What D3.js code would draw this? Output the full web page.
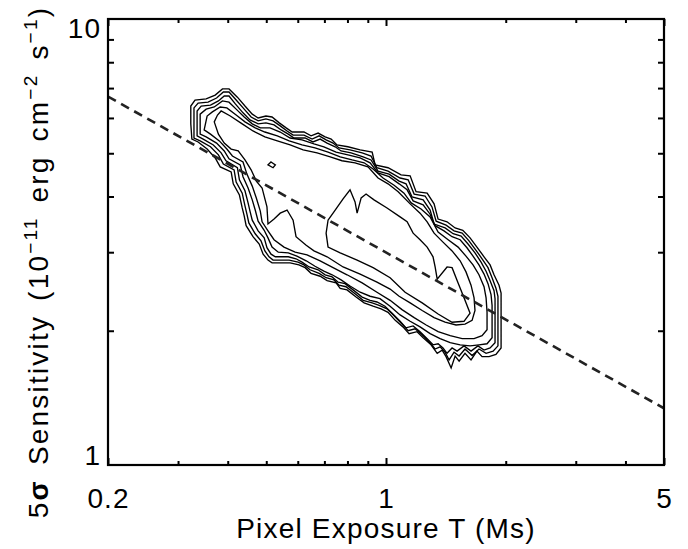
<!DOCTYPE html>
<html>
<head>
<meta charset="utf-8">
<script src="https://cdn.jsdelivr.net/npm/d3@7"></script>
<style>
  html, body { margin: 0; padding: 0; background: #fff; }
  svg { display: block; font-family: "Liberation Sans", Arial, Helvetica, sans-serif; }
</style>
</head>
<body>
<svg id="chart" width="688" height="549"></svg>
<script>
// ---- axis ticks ----
const xMajorTicks = [0.2, 1, 5];
const xMinorTicks = [0.3, 0.4, 0.5, 0.6, 0.7, 0.8, 0.9, 2, 3, 4];
const yMajorTicks = [1, 10];
const yMinorTicks = [2, 3, 4, 5, 6, 7, 8, 9];

// ---- S ∝ T^-1/2 reference line (T in Ms, S in 1e-11 erg cm^-2 s^-1) ----
const fitLine = [[0.2, 6.7], [5, 1.34]];

// ---- density contours of pixel exposure vs. 5-sigma sensitivity, outermost first ----
const contour1 = [
  [0.325,5.38],[0.323,5.82],[0.323,6.38],[0.331,6.58],[0.353,6.62],[0.372,6.75],[0.388,6.97],[0.403,6.97],
  [0.423,6.68],[0.442,6.38],[0.461,6.12],[0.477,6.00],[0.499,6.06],[0.517,6.03],[0.539,5.85],[0.561,5.70],
  [0.581,5.58],[0.622,5.58],[0.648,5.47],[0.675,5.55],[0.703,5.44],[0.728,5.38],[0.753,5.22],[0.802,5.17],
  [0.861,5.09],[0.923,5.03],[0.939,4.71],[1.012,4.64],[1.091,4.47],[1.15,4.45],[1.19,4.10],[1.269,4.07],
  [1.321,3.85],[1.352,3.56],[1.424,3.51],[1.492,3.40],[1.56,3.36],[1.627,3.23],[1.693,3.08],[1.764,2.93],
  [1.827,2.81],[1.869,2.67],[1.924,2.53],[1.947,2.43],[1.947,1.83],[1.890,1.77],[1.816,1.75],[1.744,1.75],
  [1.693,1.80],[1.636,1.72],[1.580,1.78],[1.527,1.71],[1.492,1.755],[1.458,1.65],[1.416,1.75],[1.384,1.81],
  [1.345,1.78],[1.298,1.86],[1.240,1.93],[1.197,1.99],[1.143,1.97],[1.103,2.04],[1.055,2.11],[1.012,2.20],
  [0.972,2.24],[0.928,2.27],[0.881,2.31],[0.841,2.38],[0.798,2.47],[0.767,2.49],[0.749,2.56],[0.711,2.59],
  [0.683,2.65],[0.648,2.69],[0.626,2.77],[0.604,2.81],[0.574,2.84],[0.517,2.84],[0.505,2.88],[0.491,2.97],
  [0.480,3.13],[0.463,3.25],[0.445,3.44],[0.440,3.62],[0.435,3.77],[0.428,4.03],[0.413,4.27],[0.408,4.54],
  [0.383,4.66],[0.372,4.88],[0.355,5.11],[0.337,5.30]
];
const contour2 = [
  [0.329,5.41],[0.329,6.32],[0.337,6.48],[0.357,6.51],[0.375,6.65],[0.390,6.86],[0.403,6.86],[0.420,6.58],
  [0.440,6.28],[0.458,6.03],[0.477,5.91],[0.499,5.97],[0.520,5.91],[0.542,5.76],[0.564,5.61],[0.584,5.49],
  [0.622,5.49],[0.652,5.38],[0.679,5.47],[0.707,5.36],[0.736,5.27],[0.762,5.14],[0.812,5.09],[0.871,5.01],
  [0.917,4.93],[0.949,4.64],[1.012,4.56],[1.085,4.40],[1.137,4.36],[1.177,4.05],[1.254,4.01],[1.305,3.79],
  [1.337,3.52],[1.416,3.45],[1.483,3.35],[1.554,3.31],[1.617,3.18],[1.684,3.03],[1.744,2.90],[1.805,2.77],
  [1.848,2.63],[1.890,2.49],[1.912,2.39],[1.912,1.85],[1.859,1.80],[1.785,1.78],[1.713,1.82],[1.646,1.76],
  [1.580,1.82],[1.527,1.755],[1.483,1.79],[1.441,1.72],[1.408,1.79],[1.368,1.84],[1.329,1.82],[1.283,1.89],
  [1.233,1.96],[1.183,2.02],[1.137,2.00],[1.097,2.07],[1.048,2.16],[1.006,2.24],[0.961,2.28],[0.923,2.31],
  [0.876,2.34],[0.836,2.42],[0.793,2.51],[0.762,2.53],[0.740,2.60],[0.707,2.63],[0.679,2.69],[0.644,2.74],
  [0.622,2.81],[0.601,2.85],[0.571,2.88],[0.520,2.88],[0.508,2.93],[0.496,3.02],[0.485,3.18],[0.469,3.30],
  [0.452,3.49],[0.447,3.65],[0.442,3.81],[0.435,4.07],[0.420,4.31],[0.415,4.59],[0.390,4.73],[0.379,4.96],
  [0.362,5.17],[0.341,5.33]
];
const contour3 = [
  [0.335,5.47],[0.335,6.22],[0.343,6.38],[0.362,6.41],[0.379,6.55],[0.392,6.72],[0.403,6.72],[0.418,6.45],
  [0.437,6.16],[0.455,5.94],[0.477,5.82],[0.499,5.85],[0.523,5.79],[0.545,5.64],[0.568,5.52],[0.587,5.41],
  [0.626,5.41],[0.655,5.30],[0.683,5.38],[0.711,5.27],[0.745,5.17],[0.771,5.06],[0.817,5.01],[0.876,4.91],
  [0.917,4.83],[0.955,4.56],[1.018,4.49],[1.079,4.33],[1.123,4.27],[1.163,3.99],[1.240,3.93],[1.291,3.73],
  [1.321,3.47],[1.408,3.40],[1.475,3.30],[1.545,3.26],[1.608,3.13],[1.674,2.99],[1.734,2.85],[1.785,2.72],
  [1.827,2.59],[1.869,2.46],[1.880,2.36],[1.880,1.88],[1.827,1.83],[1.764,1.81],[1.703,1.85],[1.636,1.80],
  [1.571,1.85],[1.509,1.80],[1.466,1.83],[1.424,1.78],[1.391,1.83],[1.352,1.87],[1.313,1.86],[1.269,1.92],
  [1.218,1.99],[1.170,2.05],[1.123,2.03],[1.085,2.10],[1.036,2.19],[0.994,2.27],[0.949,2.32],[0.912,2.34],
  [0.871,2.38],[0.831,2.46],[0.789,2.55],[0.758,2.57],[0.732,2.64],[0.703,2.67],[0.675,2.74],[0.641,2.78],
  [0.615,2.85],[0.594,2.90],[0.568,2.93],[0.527,2.93],[0.514,2.97],[0.502,3.07],[0.494,3.23],[0.477,3.35],
  [0.461,3.54],[0.455,3.71],[0.450,3.87],[0.442,4.12],[0.428,4.36],[0.423,4.64],[0.396,4.81],[0.385,5.01],
  [0.368,5.22],[0.347,5.38]
];
const contour4 = [
  [0.341,5.52],[0.341,6.12],[0.353,6.28],[0.370,6.35],[0.388,6.55],[0.403,6.51],[0.420,6.28],[0.440,6.03],
  [0.461,5.82],[0.483,5.70],[0.511,5.70],[0.542,5.58],[0.574,5.41],[0.615,5.36],[0.659,5.25],[0.698,5.17],
  [0.749,5.03],[0.802,4.96],[0.861,4.88],[0.912,4.76],[0.955,4.52],[1.018,4.43],[1.079,4.27],[1.130,4.14],
  [1.170,3.91],[1.240,3.83],[1.291,3.65],[1.329,3.44],[1.399,3.35],[1.466,3.25],[1.536,3.20],[1.598,3.07],
  [1.655,2.94],[1.713,2.81],[1.764,2.68],[1.805,2.55],[1.837,2.41],[1.848,2.28],[1.848,1.93],[1.795,1.87],
  [1.713,1.86],[1.627,1.85],[1.536,1.86],[1.450,1.88],[1.368,1.92],[1.291,1.97],[1.218,2.04],[1.150,2.10],
  [1.085,2.17],[1.024,2.27],[0.966,2.36],[0.912,2.39],[0.861,2.44],[0.812,2.52],[0.771,2.60],[0.732,2.67],
  [0.698,2.72],[0.663,2.79],[0.630,2.87],[0.597,2.94],[0.568,2.99],[0.536,3.00],[0.517,3.08],[0.505,3.23],
  [0.494,3.36],[0.477,3.52],[0.469,3.73],[0.461,3.93],[0.450,4.18],[0.437,4.43],[0.430,4.71],[0.403,4.86],
  [0.392,5.06],[0.375,5.27],[0.353,5.44]
];
const contour5 = [
  [0.349,5.64],[0.355,6.06],[0.366,6.19],[0.383,6.35],[0.398,6.32],[0.420,6.09],[0.442,5.88],[0.469,5.70],
  [0.496,5.58],[0.533,5.47],[0.571,5.33],[0.615,5.22],[0.663,5.14],[0.715,5.03],[0.767,4.91],[0.822,4.83],
  [0.881,4.76],[0.928,4.61],[0.983,4.40],[1.048,4.24],[1.110,4.07],[1.157,3.87],[1.225,3.75],[1.291,3.60],
  [1.352,3.33],[1.433,3.20],[1.518,3.08],[1.589,2.94],[1.655,2.81],[1.713,2.67],[1.764,2.51],[1.785,2.37],
  [1.795,2.20],[1.795,2.01],[1.744,1.95],[1.665,1.92],[1.554,1.92],[1.450,1.95],[1.352,1.99],[1.262,2.06],
  [1.177,2.14],[1.097,2.23],[1.024,2.34],[0.949,2.44],[0.871,2.56],[0.798,2.67],[0.736,2.77],[0.683,2.87],
  [0.633,2.96],[0.591,3.00],[0.554,3.08],[0.523,3.20],[0.505,3.35],[0.488,3.51],[0.483,3.71],[0.472,3.97],
  [0.461,4.22],[0.447,4.49],[0.437,4.78],[0.411,4.93],[0.398,5.11],[0.381,5.33],[0.362,5.52]
];
const contour6 = [
  [0.370,5.88],[0.377,6.09],[0.385,6.22],[0.406,6.06],[0.435,5.82],[0.463,5.61],[0.496,5.44],[0.533,5.33],
  [0.574,5.22],[0.619,5.09],[0.671,5.01],[0.724,4.91],[0.775,4.81],[0.836,4.76],[0.901,4.66],[0.955,4.40],
  [1.012,4.27],[1.073,4.10],[1.150,3.85],[1.218,3.67],[1.269,3.51],[1.321,3.31],[1.391,3.16],[1.466,3.02],
  [1.536,2.87],[1.589,2.71],[1.636,2.53],[1.665,2.37],[1.674,2.22],[1.646,2.11],[1.580,2.07],[1.500,2.06],
  [1.408,2.09],[1.321,2.14],[1.233,2.22],[1.150,2.31],[1.079,2.39],[1.024,2.48],[0.949,2.57],[0.861,2.68],
  [0.780,2.78],[0.711,2.93],[0.659,3.02],[0.630,3.11],[0.594,3.25],[0.584,3.54],[0.564,3.73],[0.542,3.67],
  [0.523,3.56],[0.505,3.47],[0.502,3.79],[0.488,4.18],[0.472,4.33],[0.458,4.59],[0.442,4.83],[0.425,5.06],
  [0.408,5.11],[0.392,5.27],[0.379,5.52]
];
const contour7 = [
  [0.715,3.54],[0.736,3.67],[0.780,3.95],[0.812,4.14],[0.836,3.89],[0.846,3.67],[0.866,3.97],[0.891,4.05],
  [0.933,3.93],[1.006,3.77],[1.085,3.60],[1.130,3.51],[1.170,3.31],[1.218,3.20],[1.269,3.08],[1.313,2.93],
  [1.329,2.78],[1.345,2.61],[1.424,2.78],[1.466,2.77],[1.518,2.56],[1.571,2.37],[1.627,2.19],[1.571,2.10],
  [1.466,2.09],[1.352,2.18],[1.233,2.31],[1.117,2.44],[1.024,2.63],[0.928,2.77],[0.846,2.88],[0.767,2.99],
  [0.715,3.08],[0.707,3.31]
];
const contour8 = [
  [0.514,4.78],[0.527,4.71],[0.520,4.64],[0.505,4.71]
];
const contours = [contour1, contour2, contour3, contour4, contour5, contour6, contour7, contour8];

// ---- layout ----
const plot = { left: 108, right: 664, top: 19, bottom: 465 };

const svg = d3.select("#chart");

const x = d3.scaleLog().domain([0.2, 5]).range([plot.left, plot.right]);
const y = d3.scaleLog().domain([1, 10]).range([plot.bottom, plot.top]);

const clipId = "plot-clip";
svg.append("clipPath").attr("id", clipId)
  .append("rect")
  .attr("x", plot.left).attr("y", plot.top)
  .attr("width", plot.right - plot.left).attr("height", plot.bottom - plot.top);

const body = svg.append("g").attr("clip-path", `url(#${clipId})`);

// contours
const ring = d3.line()
  .x(d => x(d[0]))
  .y(d => y(d[1]))
  .curve(d3.curveLinearClosed);

body.selectAll("path.contour")
  .data(contours)
  .join("path")
  .attr("class", "contour")
  .attr("d", ring)
  .attr("fill", "none")
  .attr("stroke", "#000")
  .attr("stroke-width", 1.35)
  .attr("stroke-linejoin", "miter");

// dashed fit line
body.append("path")
  .datum(fitLine)
  .attr("d", d3.line().x(d => x(d[0])).y(d => y(d[1])))
  .attr("fill", "none")
  .attr("stroke", "#222")
  .attr("stroke-width", 2.6)
  .attr("stroke-dasharray", "9,6");

// ---- axes: inward ticks on all four sides ----
function styleTicks(g) {
  g.select(".domain").remove();
  g.selectAll(".tick line").attr("stroke", "#000").attr("stroke-width", 2);
}
const minorX = 4, majorX = 7, minorY = 6;

svg.append("g").attr("transform", `translate(0,${plot.bottom})`)
  .call(d3.axisBottom(x).tickValues(xMinorTicks).tickSize(-minorX).tickFormat(""))
  .call(styleTicks);
svg.append("g").attr("transform", `translate(0,${plot.top})`)
  .call(d3.axisTop(x).tickValues(xMinorTicks).tickSize(-minorX).tickFormat(""))
  .call(styleTicks);
svg.append("g").attr("transform", `translate(0,${plot.bottom})`)
  .call(d3.axisBottom(x).tickValues(xMajorTicks).tickSize(-majorX).tickFormat(""))
  .call(styleTicks);
svg.append("g").attr("transform", `translate(0,${plot.top})`)
  .call(d3.axisTop(x).tickValues(xMajorTicks).tickSize(-majorX).tickFormat(""))
  .call(styleTicks);
svg.append("g").attr("transform", `translate(${plot.left},0)`)
  .call(d3.axisLeft(y).tickValues(yMinorTicks).tickSize(-minorY).tickFormat(""))
  .call(styleTicks);
svg.append("g").attr("transform", `translate(${plot.right},0)`)
  .call(d3.axisRight(y).tickValues(yMinorTicks).tickSize(-minorY).tickFormat(""))
  .call(styleTicks);

// frame
svg.append("rect")
  .attr("x", plot.left).attr("y", plot.top)
  .attr("width", plot.right - plot.left).attr("height", plot.bottom - plot.top)
  .attr("fill", "none").attr("stroke", "#000").attr("stroke-width", 2.2);

// ---- tick labels ----
const labelSize = 28;
svg.append("g").selectAll("text")
  .data(xMajorTicks)
  .join("text")
  .attr("x", d => x(d) + 0.5)
  .attr("y", plot.bottom + 43)
  .attr("text-anchor", "middle")
  .attr("font-size", labelSize)
  .attr("letter-spacing", 1)
  .text(d => d3.format("~g")(d));

// y labels sit just inside the span of the axis
svg.append("g").selectAll("text")
  .data(yMajorTicks)
  .join("text")
  .attr("x", plot.left - 7)
  .attr("y", d => Math.min(Math.max(y(d) + 10, plot.top + 19), plot.bottom))
  .attr("text-anchor", "end")
  .attr("font-size", labelSize)
  .attr("letter-spacing", 1)
  .text(d => d3.format("~g")(d));

// ---- axis titles ----
svg.append("text")
  .attr("x", (plot.left + plot.right) / 2)
  .attr("y", 538)
  .attr("text-anchor", "middle")
  .attr("font-size", 28)
  .attr("letter-spacing", 1.2)
  .text("Pixel Exposure T (Ms)");

const yTitle = svg.append("text")
  .attr("transform", `translate(48,262) rotate(-90)`)
  .attr("text-anchor", "middle")
  .attr("font-size", 28)
  .attr("letter-spacing", 2.2)
  .attr("word-spacing", 4);
yTitle.append("tspan").text("5");
yTitle.append("tspan").attr("font-weight", "bold").text("σ");
yTitle.append("tspan").text(" Sensitivity (10");
yTitle.append("tspan").attr("font-size", 19).attr("dy", -11).text("−11");
yTitle.append("tspan").attr("dy", 11).text(" erg cm");
yTitle.append("tspan").attr("font-size", 19).attr("dy", -11).text("−2");
yTitle.append("tspan").attr("dy", 11).text(" s");
yTitle.append("tspan").attr("font-size", 19).attr("dy", -11).text("−1");
yTitle.append("tspan").attr("dy", 11).text(")");
</script>
</body>
</html>
